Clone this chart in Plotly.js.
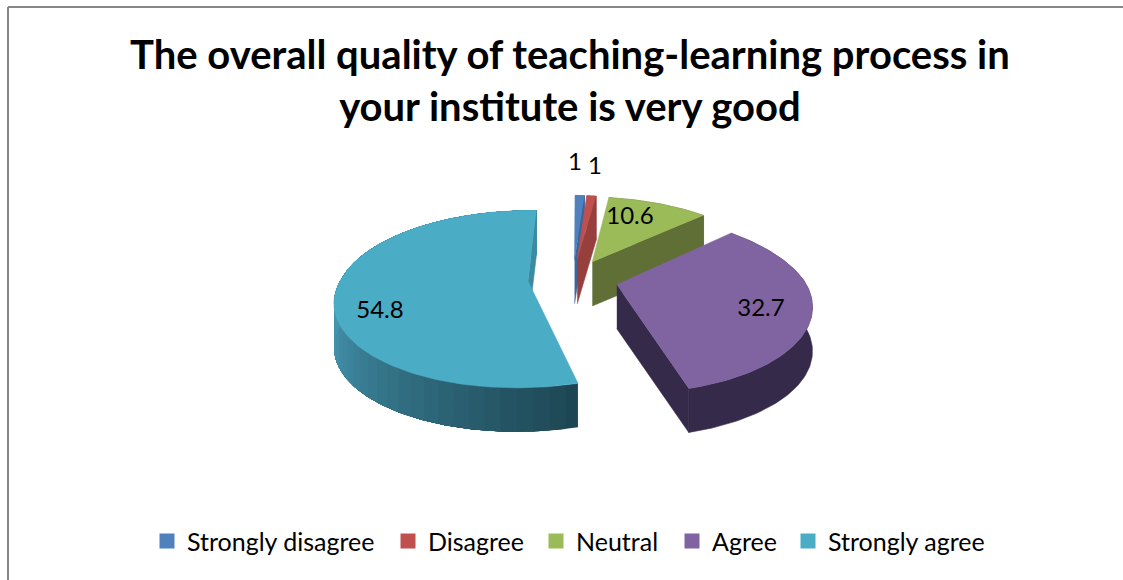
<!DOCTYPE html>
<html><head><meta charset="utf-8">
<script src="https://cdn.plot.ly/plotly-3.0.1.min.js"></script>
<style>html,body{margin:0;padding:0;background:#fff}#c{width:1123px;height:580px}</style>
</head><body><div id="c"></div>
<script>
const categories = ["Strongly disagree","Disagree","Neutral","Agree","Strongly agree"];
const values = [1,1,10.6,32.7,54.8];
const colors = ["#4f81bd","#c0504d","#9bbb59","#8064a2","#4bacc6"];
const wallColors = ["#3c659a","#973f3c","#5f6f36","#352a49","#3a8aa0"];
const labelPos = [[575,164],[595,168],[630,218],[761,310],[380,312]];
const legendTextX = [187,428,576,712,828];

// projection of the exploded 3-D pie
const CX=573, CY=279, R=187, K=0.45, P=0.2, EXPLODE=45, DEPTH=44, ROT=2, SKEW=0.03;
const total = values.reduce((a,b)=>a+b,0);
const rad = d=>d*Math.PI/180;
function proj(X,Y,drop){
  const s = 1/(1-P*Y/R);
  return [CX+s*(X+SKEW*Math.min(0,Y)), CY+s*K*Y+(drop||0)];
}
function pt(bis,ang,r,drop){
  const X = EXPLODE*Math.sin(rad(bis))+r*Math.sin(rad(ang));
  const Y = -EXPLODE*Math.cos(rad(bis))-r*Math.cos(rad(ang));
  return proj(X,Y,drop);
}
const traces=[];
function poly(pts,color){
  traces.push({type:"scatter",mode:"lines",x:pts.map(p=>p[0]),y:pts.map(p=>p[1]),
    fill:"toself",fillcolor:color,line:{color:color,width:0.6},showlegend:false,hoverinfo:"skip"});
}
function mix(a,b,t){return "rgb("+a.map((v,i)=>Math.round(v+(b[i]-v)*t)).join(",")+")";}

let acc=0;
const slices = values.map((v,i)=>{const a0=acc/total*360+ROT; acc+=v; const a1=acc/total*360+ROT;
  return {i,a0,a1,bis:(a0+a1)/2};});
[0,1,2,4,3].forEach(idx=>{
  const s=slices[idx];
  const arc=[],arcLow=[];
  const n=Math.max(4,Math.round(s.a1-s.a0));
  for(let j=0;j<=n;j++){const a=s.a0+(s.a1-s.a0)*j/n; arc.push(pt(s.bis,a,R,0)); arcLow.push(pt(s.bis,a,R,DEPTH));}
  // outer wall
  if(idx===4){
    const strips=50;
    for(let t=0;t<strips;t++){
      const j0=Math.floor(n*t/strips);
      const top=arc.slice(j0), low=arcLow.slice(j0).reverse();
      const f=Math.min(1,(t/strips)*2.3);
      traces.push({type:"scatter",mode:"lines",x:top.concat(low).map(p=>p[0]),y:top.concat(low).map(p=>p[1]),
        fill:"toself",fillcolor:mix([29,70,84],[68,148,173],f),line:{width:0,color:"rgba(0,0,0,0)"},showlegend:false,hoverinfo:"skip"});
    }
  } else {
    poly(arc.concat(arcLow.slice().reverse()),wallColors[idx]);
  }
  // cut face at the clockwise end of the slice
  const apex=pt(s.bis,s.a1,0,0), apexLow=pt(s.bis,s.a1,0,DEPTH);
  const end=arc[arc.length-1], endLow=arcLow[arcLow.length-1];
  poly([apex,end,endLow,apexLow],wallColors[idx]);
  // top face
  poly([apex].concat(arc),colors[idx]);
});
// data labels
traces.push({type:"scatter",mode:"text",x:labelPos.map(p=>p[0]),y:labelPos.map(p=>p[1]),
  text:values.map(String),textposition:"middle center",textfont:{family:"Lato, Carlito, sans-serif",size:24,color:"#000"},
  showlegend:false,hoverinfo:"skip",cliponaxis:false});
// legend keys: one legend box per key so each sits at its own place
const legends={};
categories.forEach((c,i)=>{
  const id = i===0 ? "legend" : "legend"+(i+1);
  traces.push({type:"scatter",mode:"markers",x:[null],y:[null],name:c,legend:id,
    marker:{symbol:"square",size:15,color:colors[i]}});
  legends[id]={orientation:"h",x:(legendTextX[i]-40)/1123,xanchor:"left",y:0.067,yanchor:"middle",
    font:{family:"Lato, Carlito, sans-serif",size:25,color:"#000"},itemsizing:"trace",itemwidth:30,bgcolor:"rgba(0,0,0,0)"};
});

const layout=Object.assign({
  width:1123,height:580,margin:{l:0,r:0,t:0,b:0},paper_bgcolor:"#fff",plot_bgcolor:"#fff",
  title:{text:"The overall quality of teaching-learning process in<br>your institute is very good",
    font:{family:"Lato, Carlito, sans-serif",size:40,color:"#000",weight:700},
    x:0.5075,xanchor:"center",y:0.881,yanchor:"middle",automargin:false},
  xaxis:{range:[0,1123],visible:false,fixedrange:true,domain:[0,1]},
  yaxis:{range:[580,0],visible:false,fixedrange:true,domain:[0,1]},
  shapes:[
    {type:"line",xref:"paper",yref:"paper",x0:8/1123,x1:8/1123,y0:0,y1:1-7/580,line:{color:"#868686",width:2}},
    {type:"line",xref:"paper",yref:"paper",x0:8/1123,x1:1,y0:1-7/580,y1:1-7/580,line:{color:"#868686",width:2}}
  ]
},legends);
Plotly.newPlot("c",traces,layout,{staticPlot:true,displayModeBar:false});
</script></body></html>
